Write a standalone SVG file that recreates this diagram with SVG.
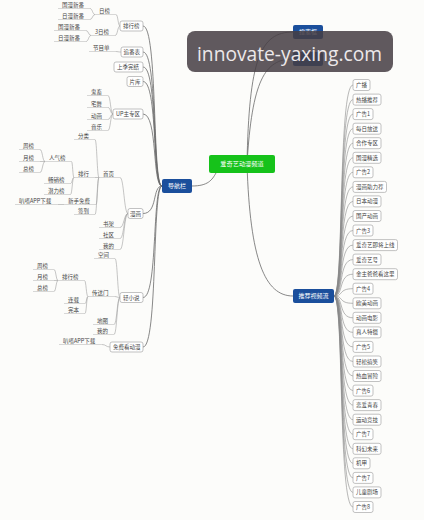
<svg xmlns="http://www.w3.org/2000/svg" width="424" height="520" viewBox="0 0 424 520">
<style>
.bg{fill:#fcfcfa}
.box{fill:#fff;stroke:#a8a8a8;stroke-width:0.7}
.t{font-family:"Noto Sans CJK SC","Noto Sans",sans-serif;font-size:5.5px;fill:#444}
.ul{stroke:#bdbdbd;stroke-width:0.6}
.c{fill:none;stroke:#a0a0a0;stroke-width:0.6}
.m{fill:none;stroke:#6a6a6a;stroke-width:0.8}
.r{fill:none;stroke:#888;stroke-width:0.6}
.blue{fill:#1b4f9c}
.green{fill:#16c21a}
.wt{font-family:"Noto Sans CJK SC","Noto Sans",sans-serif;font-size:6px;fill:#fff}
</style>
<rect class="bg" x="0" y="0" width="424" height="520"/>
<g id="connectors">
<!-- main -->
<path class="m" d="M192,186 C208,186 212,180 216,173"/>
<path class="m" d="M247,164 C249,60 260,32 293,32"/>
<path class="m" d="M247,164 C252,80 265,59 293,59"/>
<path class="m" d="M247,164 C250,260 265,296 293,296"/>
<!-- nav level 1 -->
<path class="m" d="M162,186 C152,186 158,26 143,26"/>
<path class="m" d="M162,186 C152,186 158,52 143,52"/>
<path class="m" d="M162,186 C152,186 158,67 143,67"/>
<path class="m" d="M162,186 C152,186 158,81.5 143,81.5"/>
<path class="m" d="M162,186 C152,186 158,114 143,114"/>
<path class="m" d="M162,186 C152,186 158,213.5 143,213.5"/>
<path class="m" d="M162,186 C152,186 158,297.5 143,297.5"/>
<path class="m" d="M162,186 C152,186 158,347 143,347"/>
<!-- sub -->
<path class="c" d="M120,26 C118,26 118,14.5 116,14.5"/>
<path class="c" d="M120,26 C117.6,26 117.6,35.5 115.2,35.5"/>
<path class="c" d="M95,14.5 C92.5,14.5 92.5,8.5 90,8.5"/>
<path class="c" d="M95,14.5 C92.5,14.5 92.5,19.5 90,19.5"/>
<path class="c" d="M91,35.5 C88.5,35.5 88.5,30.5 86,30.5"/>
<path class="c" d="M91,35.5 C88.5,35.5 88.5,41.5 86,41.5"/>
<path class="c" d="M121,52 C118,52 118,51.5 115.5,51.5"/>
<path class="c" d="M113,114 C110.5,114 110.5,95.5 108,95.5"/>
<path class="c" d="M113,114 C110.5,114 110.5,107.5 108,107.5"/>
<path class="c" d="M113,114 C110.5,114 110.5,119.5 108,119.5"/>
<path class="c" d="M113,114 C110.5,114 110.5,130.5 108,130.5"/>
<path class="c" d="M128,213.5 C124,213.5 124,177.5 120,177.5"/>
<path class="c" d="M128,213.5 C124,213.5 124,227.5 120,227.5"/>
<path class="c" d="M128,213.5 C124,213.5 124,238.5 120,238.5"/>
<path class="c" d="M128,213.5 C124,213.5 124,249.5 120,249.5"/>
<path class="c" d="M99,177.5 C97,177.5 97,139.5 95,139.5"/>
<path class="c" d="M99,177.5 L95,177.5"/>
<path class="c" d="M99,177.5 C97.5,177.5 97.5,204.5 96,204.5"/>
<path class="c" d="M99,177.5 C97,177.5 97,214.5 95,214.5"/>
<path class="c" d="M74,177.5 C72.7,177.5 72.7,161.5 71.5,161.5"/>
<path class="c" d="M74,177.5 C72.2,177.5 72.2,183.5 70.5,183.5"/>
<path class="c" d="M74,177.5 C72.2,177.5 72.2,194.5 70.5,194.5"/>
<path class="c" d="M45,161.5 C42.5,161.5 42.5,149.5 40,149.5"/>
<path class="c" d="M45,161.5 L40,161.5"/>
<path class="c" d="M45,161.5 C42.5,161.5 42.5,172.5 40,172.5"/>
<path class="c" d="M64,204.5 L57.8,204.5"/>
<path class="c" d="M120,297.5 C117.5,297.5 117.5,258.5 115,258.5"/>
<path class="c" d="M120,297.5 C117,297.5 117,296.5 114.5,296.5"/>
<path class="c" d="M120,297.5 C117,297.5 117,324.5 114,324.5"/>
<path class="c" d="M120,297.5 C117,297.5 117,334.5 114,334.5"/>
<path class="c" d="M88,296.5 C86.2,296.5 86.2,280.5 84.5,280.5"/>
<path class="c" d="M88,296.5 C86.5,296.5 86.5,303.5 85,303.5"/>
<path class="c" d="M88,296.5 C86.5,296.5 86.5,313.5 85,313.5"/>
<path class="c" d="M58,280.5 C56,280.5 56,269.5 54,269.5"/>
<path class="c" d="M58,280.5 L54,280.5"/>
<path class="c" d="M58,280.5 C56,280.5 56,291.5 54,291.5"/>
<path class="c" d="M110,347 C106,347 106,344.5 101.8,344.5"/>
<!-- right list -->
<path class="r" d="M334,296 C344,296 338,85 353,85"/>
<path class="r" d="M334,296 C344,296 338,99.6 353,99.6"/>
<path class="r" d="M334,296 C344,296 338,114.1 353,114.1"/>
<path class="r" d="M334,296 C344,296 338,128.7 353,128.7"/>
<path class="r" d="M334,296 C344,296 338,143.2 353,143.2"/>
<path class="r" d="M334,296 C344,296 338,157.8 353,157.8"/>
<path class="r" d="M334,296 C344,296 338,172.3 353,172.3"/>
<path class="r" d="M334,296 C344,296 338,186.9 353,186.9"/>
<path class="r" d="M334,296 C344,296 338,201.4 353,201.4"/>
<path class="r" d="M334,296 C344,296 338,216 353,216"/>
<path class="r" d="M334,296 C344,296 338,230.5 353,230.5"/>
<path class="r" d="M334,296 C344,296 338,245.1 353,245.1"/>
<path class="r" d="M334,296 C344,296 338,259.6 353,259.6"/>
<path class="r" d="M334,296 C344,296 338,274.2 353,274.2"/>
<path class="r" d="M334,296 C344,296 338,288.7 353,288.7"/>
<path class="r" d="M334,296 C344,296 338,303.3 353,303.3"/>
<path class="r" d="M334,296 C344,296 338,317.8 353,317.8"/>
<path class="r" d="M334,296 C344,296 338,332.4 353,332.4"/>
<path class="r" d="M334,296 C344,296 338,346.9 353,346.9"/>
<path class="r" d="M334,296 C344,296 338,361.5 353,361.5"/>
<path class="r" d="M334,296 C344,296 338,376 353,376"/>
<path class="r" d="M334,296 C344,296 338,390.6 353,390.6"/>
<path class="r" d="M334,296 C344,296 338,405.1 353,405.1"/>
<path class="r" d="M334,296 C344,296 338,419.7 353,419.7"/>
<path class="r" d="M334,296 C344,296 338,434.2 353,434.2"/>
<path class="r" d="M334,296 C344,296 338,448.8 353,448.8"/>
<path class="r" d="M334,296 C344,296 338,463.3 353,463.3"/>
<path class="r" d="M334,296 C344,296 338,477.9 353,477.9"/>
<path class="r" d="M334,296 C344,296 338,492.4 353,492.4"/>
<path class="r" d="M334,296 C344,296 338,507 353,507"/>
</g>

<!-- central / main nodes -->
<g id="n-center"><rect class="green" x="209" y="155" width="66" height="18" rx="2"/><text class="wt" x="242" y="166.3" text-anchor="middle" style="font-size:6.2px">爱奇艺动漫频道</text></g>
<g id="n-nav"><rect class="blue" x="162" y="179" width="30" height="14" rx="2"/><text class="wt" x="177" y="188.2" text-anchor="middle">导航栏</text></g>
<g id="n-rec"><rect class="blue" x="293" y="289" width="41" height="14" rx="2"/><text class="wt" x="313.5" y="298.2" text-anchor="middle">推荐视频流</text></g>
<g id="n-search"><rect class="blue" x="293" y="25" width="30" height="14" rx="2"/><text class="wt" x="308" y="34.2" text-anchor="middle">搜索框</text></g>
<g id="n-top2"><rect class="blue" x="293" y="52" width="30" height="14" rx="2"/></g>

<!-- nav level 1 boxes -->
<g id="n-phb"><rect class="box" x="120" y="21" width="23" height="10" rx="2"/><text class="t" x="123" y="28">排行榜</text></g>
<g id="n-zfb"><rect class="box" x="121" y="47" width="22" height="10" rx="2"/><text class="t" x="123.5" y="54">追番表</text></g>
<g id="n-sjwj"><rect class="box" x="114" y="62" width="29" height="10" rx="2"/><text class="t" x="117" y="69">上季完结</text></g>
<g id="n-pk"><rect class="box" x="127" y="76.5" width="16" height="10" rx="2"/><text class="t" x="129.5" y="83.5">片库</text></g>
<g id="n-up"><rect class="box" x="113" y="109" width="30" height="10" rx="2"/><text class="t" x="116" y="116">UP主专区</text></g>
<g id="n-mh"><rect class="box" x="128" y="208.5" width="15" height="10" rx="2"/><text class="t" x="130" y="215.5">漫画</text></g>
<g id="n-qxs"><rect class="box" x="120" y="292.5" width="23" height="10" rx="2"/><text class="t" x="123" y="299.5">轻小说</text></g>
<g id="n-mfk"><rect class="box" x="110" y="342" width="33" height="10" rx="2"/><text class="t" x="113" y="349">免费看动漫</text></g>

<!-- sub topics -->
<g id="s-rb"><text class="t" x="99" y="13">日榜</text><line class="ul" x1="95" y1="14.5" x2="116" y2="14.5"/></g>
<g id="s-3rb"><text class="t" x="95" y="34">3日榜</text><line class="ul" x1="91" y1="35.5" x2="115.2" y2="35.5"/></g>
<g id="s-gm1"><text class="t" x="62" y="7">国漫新番</text><line class="ul" x1="58" y1="8.5" x2="90" y2="8.5"/></g>
<g id="s-rm1"><text class="t" x="62" y="18">日漫新番</text><line class="ul" x1="58" y1="19.5" x2="90" y2="19.5"/></g>
<g id="s-gm2"><text class="t" x="58" y="29">国漫新番</text><line class="ul" x1="54" y1="30.5" x2="86" y2="30.5"/></g>
<g id="s-rm2"><text class="t" x="58" y="40">日漫新番</text><line class="ul" x1="54" y1="41.5" x2="86" y2="41.5"/></g>
<g id="s-jmd"><text class="t" x="93" y="50">节目单</text><line class="ul" x1="89" y1="51.5" x2="115.5" y2="51.5"/></g>
<g id="s-gc"><text class="t" x="91" y="94">鬼畜</text><line class="ul" x1="87" y1="95.5" x2="108" y2="95.5"/></g>
<g id="s-zw"><text class="t" x="91" y="106">宅舞</text><line class="ul" x1="87" y1="107.5" x2="108" y2="107.5"/></g>
<g id="s-dh"><text class="t" x="91" y="118">动画</text><line class="ul" x1="87" y1="119.5" x2="108" y2="119.5"/></g>
<g id="s-yy"><text class="t" x="91" y="129">音乐</text><line class="ul" x1="87" y1="130.5" x2="108" y2="130.5"/></g>
<g id="s-sy"><text class="t" x="103" y="176">首页</text><line class="ul" x1="99" y1="177.5" x2="120" y2="177.5"/></g>
<g id="s-sj"><text class="t" x="103" y="226">书架</text><line class="ul" x1="99" y1="227.5" x2="120" y2="227.5"/></g>
<g id="s-sq"><text class="t" x="103" y="237">社区</text><line class="ul" x1="99" y1="238.5" x2="120" y2="238.5"/></g>
<g id="s-wd1"><text class="t" x="103" y="248">我的</text><line class="ul" x1="99" y1="249.5" x2="120" y2="249.5"/></g>
<g id="s-fl"><text class="t" x="78" y="138">分类</text><line class="ul" x1="74" y1="139.5" x2="95" y2="139.5"/></g>
<g id="s-ph"><text class="t" x="78" y="176">排行</text><line class="ul" x1="74" y1="177.5" x2="95" y2="177.5"/></g>
<g id="s-xsmf"><text class="t" x="68" y="203">新手免费</text><line class="ul" x1="64" y1="204.5" x2="96" y2="204.5"/></g>
<g id="s-qd"><text class="t" x="78" y="213">签到</text><line class="ul" x1="74" y1="214.5" x2="95" y2="214.5"/></g>
<g id="s-rqb"><text class="t" x="49" y="160">人气榜</text><line class="ul" x1="45" y1="161.5" x2="71.5" y2="161.5"/></g>
<g id="s-cxb"><text class="t" x="48" y="182">畅销榜</text><line class="ul" x1="44" y1="183.5" x2="70.5" y2="183.5"/></g>
<g id="s-qlb"><text class="t" x="48" y="193">潜力榜</text><line class="ul" x1="44" y1="194.5" x2="70.5" y2="194.5"/></g>
<g id="s-zb1"><text class="t" x="23" y="148">周榜</text><line class="ul" x1="19" y1="149.5" x2="40" y2="149.5"/></g>
<g id="s-yb1"><text class="t" x="23" y="160">月榜</text><line class="ul" x1="19" y1="161.5" x2="40" y2="161.5"/></g>
<g id="s-zb1b"><text class="t" x="23" y="171">总榜</text><line class="ul" x1="19" y1="172.5" x2="40" y2="172.5"/></g>
<g id="s-app1"><text class="t" x="19" y="203">叭嗒APP下载</text><line class="ul" x1="15" y1="204.5" x2="57.8" y2="204.5"/></g>
<g id="s-kj"><text class="t" x="98" y="257">空间</text><line class="ul" x1="94" y1="258.5" x2="115" y2="258.5"/></g>
<g id="s-csm"><text class="t" x="92" y="295">传送门</text><line class="ul" x1="88" y1="296.5" x2="114.5" y2="296.5"/></g>
<g id="s-dt"><text class="t" x="97" y="323">地图</text><line class="ul" x1="93" y1="324.5" x2="114" y2="324.5"/></g>
<g id="s-wd2"><text class="t" x="97" y="333">我的</text><line class="ul" x1="93" y1="334.5" x2="114" y2="334.5"/></g>
<g id="s-phb2"><text class="t" x="62" y="279">排行榜</text><line class="ul" x1="58" y1="280.5" x2="84.5" y2="280.5"/></g>
<g id="s-lz"><text class="t" x="68" y="302">连载</text><line class="ul" x1="64" y1="303.5" x2="85" y2="303.5"/></g>
<g id="s-wb"><text class="t" x="68" y="312">完本</text><line class="ul" x1="64" y1="313.5" x2="85" y2="313.5"/></g>
<g id="s-zb2"><text class="t" x="37" y="268">周榜</text><line class="ul" x1="33" y1="269.5" x2="54" y2="269.5"/></g>
<g id="s-yb2"><text class="t" x="37" y="279">月榜</text><line class="ul" x1="33" y1="280.5" x2="54" y2="280.5"/></g>
<g id="s-zb2b"><text class="t" x="37" y="290">总榜</text><line class="ul" x1="33" y1="291.5" x2="54" y2="291.5"/></g>
<g id="s-app2"><text class="t" x="63" y="343">叭嗒APP下载</text><line class="ul" x1="59" y1="344.5" x2="101.8" y2="344.5"/></g>

<!-- right list -->
<g id="r0"><rect class="box" x="353" y="79.5" width="17" height="11" rx="2"/><text class="t" x="356" y="87">广播</text></g>
<g id="r1"><rect class="box" x="353" y="94.1" width="28" height="11" rx="2"/><text class="t" x="356" y="101.6">热播推荐</text></g>
<g id="r2"><rect class="box" x="353" y="108.6" width="20" height="11" rx="2"/><text class="t" x="356" y="116.1">广告1</text></g>
<g id="r3"><rect class="box" x="353" y="123.2" width="28" height="11" rx="2"/><text class="t" x="356" y="130.7">每日放送</text></g>
<g id="r4"><rect class="box" x="353" y="137.7" width="28" height="11" rx="2"/><text class="t" x="356" y="145.2">合作专区</text></g>
<g id="r5"><rect class="box" x="353" y="152.3" width="28" height="11" rx="2"/><text class="t" x="356" y="159.8">国漫精选</text></g>
<g id="r6"><rect class="box" x="353" y="166.8" width="20" height="11" rx="2"/><text class="t" x="356" y="174.3">广告2</text></g>
<g id="r7"><rect class="box" x="353" y="181.4" width="33.5" height="11" rx="2"/><text class="t" x="356" y="188.9">漫画助力荐</text></g>
<g id="r8"><rect class="box" x="353" y="195.9" width="28" height="11" rx="2"/><text class="t" x="356" y="203.4">日本动漫</text></g>
<g id="r9"><rect class="box" x="353" y="210.5" width="28" height="11" rx="2"/><text class="t" x="356" y="218">国产动画</text></g>
<g id="r10"><rect class="box" x="353" y="225" width="20" height="11" rx="2"/><text class="t" x="356" y="232.5">广告3</text></g>
<g id="r11"><rect class="box" x="353" y="239.6" width="44.5" height="11" rx="2"/><text class="t" x="356" y="247.1">爱奇艺即将上线</text></g>
<g id="r12"><rect class="box" x="353" y="254.1" width="28" height="11" rx="2"/><text class="t" x="356" y="261.6">爱奇艺号</text></g>
<g id="r13"><rect class="box" x="353" y="268.7" width="44.5" height="11" rx="2"/><text class="t" x="356" y="276.2">金主爸爸看这里</text></g>
<g id="r14"><rect class="box" x="353" y="283.2" width="20" height="11" rx="2"/><text class="t" x="356" y="290.7">广告4</text></g>
<g id="r15"><rect class="box" x="353" y="297.8" width="28" height="11" rx="2"/><text class="t" x="356" y="305.3">欧美动画</text></g>
<g id="r16"><rect class="box" x="353" y="312.3" width="28" height="11" rx="2"/><text class="t" x="356" y="319.8">动画电影</text></g>
<g id="r17"><rect class="box" x="353" y="326.9" width="28" height="11" rx="2"/><text class="t" x="356" y="334.4">真人特摄</text></g>
<g id="r18"><rect class="box" x="353" y="341.4" width="20" height="11" rx="2"/><text class="t" x="356" y="348.9">广告5</text></g>
<g id="r19"><rect class="box" x="353" y="356" width="28" height="11" rx="2"/><text class="t" x="356" y="363.5">轻松搞笑</text></g>
<g id="r20"><rect class="box" x="353" y="370.5" width="28" height="11" rx="2"/><text class="t" x="356" y="378">热血冒险</text></g>
<g id="r21"><rect class="box" x="353" y="385.1" width="20" height="11" rx="2"/><text class="t" x="356" y="392.6">广告6</text></g>
<g id="r22"><rect class="box" x="353" y="399.6" width="28" height="11" rx="2"/><text class="t" x="356" y="407.1">恋爱青春</text></g>
<g id="r23"><rect class="box" x="353" y="414.2" width="28" height="11" rx="2"/><text class="t" x="356" y="421.7">运动竞技</text></g>
<g id="r24"><rect class="box" x="353" y="428.7" width="20" height="11" rx="2"/><text class="t" x="356" y="436.2">广告7</text></g>
<g id="r25"><rect class="box" x="353" y="443.3" width="28" height="11" rx="2"/><text class="t" x="356" y="450.8">科幻未来</text></g>
<g id="r26"><rect class="box" x="353" y="457.8" width="17" height="11" rx="2"/><text class="t" x="356" y="465.3">机甲</text></g>
<g id="r27"><rect class="box" x="353" y="472.4" width="20" height="11" rx="2"/><text class="t" x="356" y="479.9">广告7</text></g>
<g id="r28"><rect class="box" x="353" y="486.9" width="28" height="11" rx="2"/><text class="t" x="356" y="494.4">儿童剧场</text></g>
<g id="r29"><rect class="box" x="353" y="501.5" width="20" height="11" rx="2"/><text class="t" x="356" y="509">广告8</text></g>

<!-- watermark -->
<g id="watermark">
<rect x="187" y="31" width="206" height="41" rx="8" fill="#463e43" fill-opacity="0.86"/>
<text x="197" y="61" font-family="'Open Sans','DejaVu Sans',sans-serif" font-size="20" fill="#ece8ea" textLength="185" lengthAdjust="spacingAndGlyphs">innovate-yaxing.com</text>
</g>
</svg>
